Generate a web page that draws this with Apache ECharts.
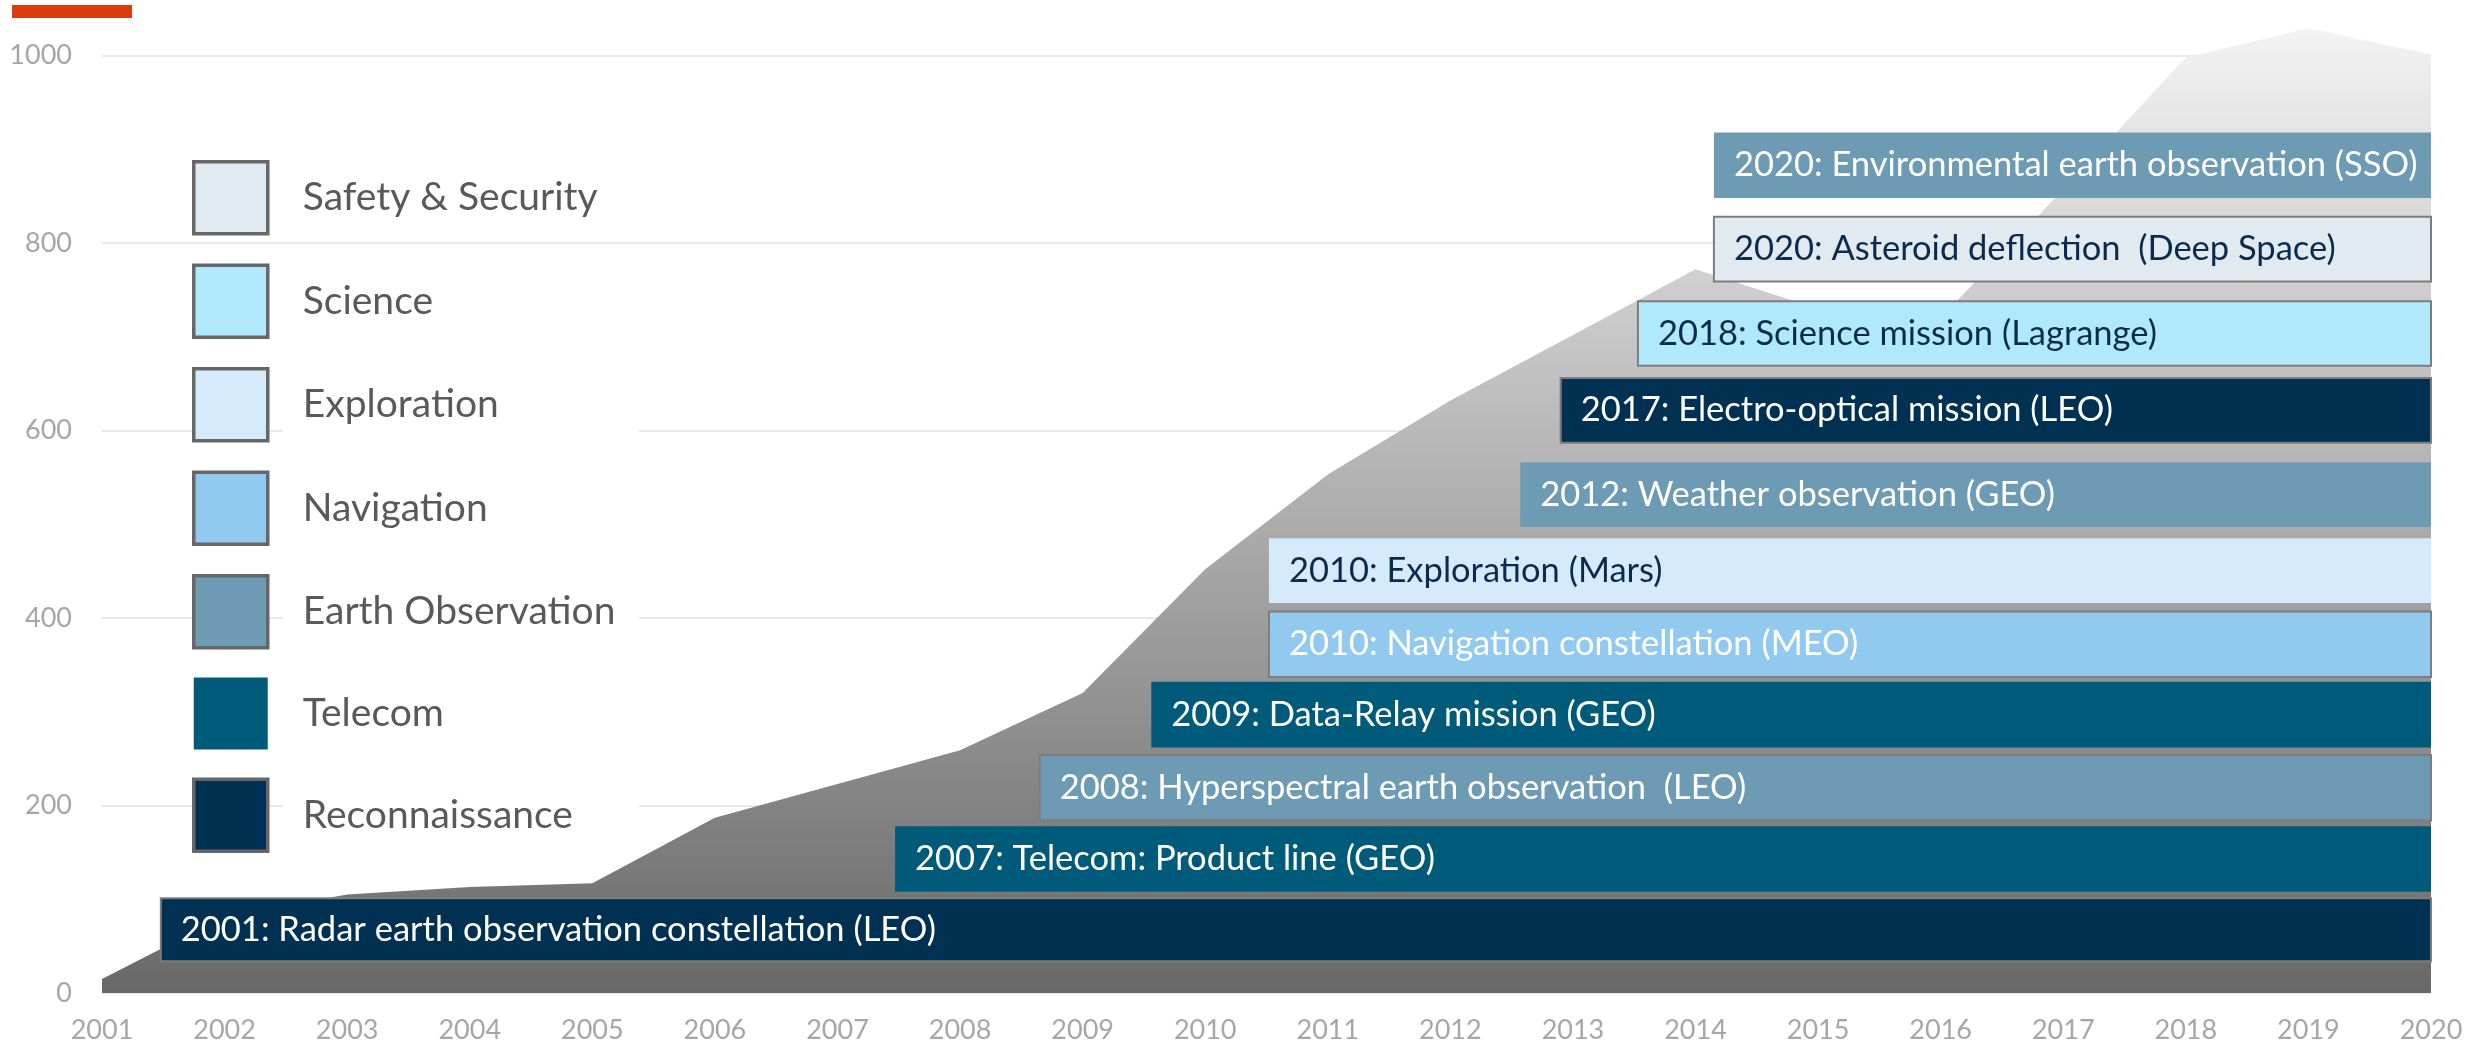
<!DOCTYPE html>
<html>
<head>
<meta charset="utf-8">
<script src="https://cdn.jsdelivr.net/npm/echarts@6/dist/echarts.min.js"></script>
<style>
html,body{margin:0;padding:0;background:#ffffff;}
#chart{width:2481px;height:1048px;}
</style>
</head>
<body>
<div id="chart"></div>
<script>
// ---------- DATA ----------
const years = [2001,2002,2003,2004,2005,2006,2007,2008,2009,2010,2011,2012,2013,2014,2015,2016,2017,2018,2019,2020];
const totalValues = [15,82,105,113,117,187,223,259,320,452,553,632,702,772,730,720,857,998,1029,1001];
const yTicks = [0,200,400,600,800,1000];

const categories = ['Safety & Security','Science','Exploration','Navigation','Earth Observation','Telecom','Reconnaissance'];

const missionLabels = [
  '2001: Radar earth observation constellation (LEO)',
  '2007: Telecom: Product line (GEO)',
  '2008: Hyperspectral earth observation  (LEO)',
  '2009: Data-Relay mission (GEO)',
  '2010: Navigation constellation (MEO)',
  '2010: Exploration (Mars)',
  '2012: Weather observation (GEO)',
  '2017: Electro-optical mission (LEO)',
  '2018: Science mission (Lagrange)',
  '2020: Asteroid deflection  (Deep Space)',
  '2020: Environmental earth observation (SSO)'
];
const missionCategory = ['Reconnaissance','Telecom','Earth Observation','Telecom','Navigation','Exploration','Earth Observation','Reconnaissance','Science','Safety & Security','Earth Observation'];
const missionStart = [2001.48,2007.47,2008.65,2009.56,2010.52,2010.52,2012.57,2012.90,2013.53,2014.15,2014.15];
const missionEnd   = [2020,2020,2020,2020,2020,2020,2020,2020,2020,2020,2020];
const missionLow   = [34,108,184,262,337,416,497,587,669,759,848];
const missionHigh  = [101,178,254,332,407,485,566,656,738,828,918];

// ---------- STYLE ----------
const FONT = 'Lato';
const CAT_COLORS = {
  'Safety & Security':'#e1eaf1',
  'Science':'#b0e9fc',
  'Exploration':'#d5ebfb',
  'Navigation':'#92c9ef',
  'Earth Observation':'#6d9bb4',
  'Telecom':'#005b7a',
  'Reconnaissance':'#003152'
};
const CAT_TEXT = {
  'Safety & Security':'#0b2b4c',
  'Science':'#0b2b4c',
  'Exploration':'#0b2b4c',
  'Navigation':'#ffffff',
  'Earth Observation':'#ffffff',
  'Telecom':'#ffffff',
  'Reconnaissance':'#ffffff'
};
const BORDERED = [0,2,4,7,8,9];
const LABEL_PAD = 20;

const chart = echarts.init(document.getElementById('chart'), null, {renderer:'canvas'});

const missionSeries = categories.map(cat => {
  const idx = missionLabels.map((_, i) => i).filter(i => missionCategory[i] === cat);
  return {
    type: 'custom',
    name: cat,
    z: 5,
    itemStyle: {color: CAT_COLORS[cat]},
    encode: {x: [0,1], y: [2,3]},
    data: idx.map(i => [missionStart[i], missionEnd[i], missionLow[i], missionHigh[i]]),
    renderItem: (params, api) => {
      const i = idx[params.dataIndex];
      const tl = api.coord([api.value(0), api.value(3)]);
      const br = api.coord([api.value(1), api.value(2)]);
      const bordered = BORDERED.indexOf(i) >= 0;
      return {
        type: 'group',
        children: [
          {
            type: 'rect',
            shape: {x: tl[0], y: tl[1], width: br[0]-tl[0], height: br[1]-tl[1]},
            style: {fill: CAT_COLORS[cat], stroke: bordered ? '#7d7d7d' : null, lineWidth: bordered ? 2 : 0}
          },
          {
            type: 'text',
            x: tl[0] + LABEL_PAD,
            y: (tl[1] + br[1]) / 2,
            style: {
              text: missionLabels[i],
              fill: CAT_TEXT[cat],
              fontFamily: FONT,
              fontSize: 34.5,
              align: 'left',
              verticalAlign: 'middle'
            }
          }
        ]
      };
    }
  };
});

const option = {
  backgroundColor: '#ffffff',
  animation: false,
  grid: {left: 102, right: 50, top: 55.5, bottom: 55, containLabel: false},
  xAxis: {
    type: 'value',
    min: years[0], max: years[years.length-1], interval: 1,
    axisLine: {show: false},
    axisTick: {show: false},
    splitLine: {show: false},
    axisLabel: {
      formatter: v => String(v),
      color: '#a6a6a6', fontFamily: FONT, fontSize: 27, margin: 24
    }
  },
  yAxis: {
    type: 'value',
    min: yTicks[0], max: yTicks[yTicks.length-1], interval: yTicks[1]-yTicks[0],
    axisLine: {show: false},
    axisTick: {show: false},
    splitLine: {show: true, lineStyle: {color: '#e8e8e8', width: 2}},
    axisLabel: {formatter: v => String(v), color: '#a6a6a6', fontFamily: FONT, fontSize: 27, margin: 30}
  },
  legend: {
    orient: 'vertical',
    left: 192, top: 160, padding: 0,
    itemWidth: 74, itemHeight: 72, itemGap: 28,
    icon: 'rect',
    selectedMode: false,
    itemStyle: {borderColor: '#676767', borderWidth: 3.5},
    textStyle: {fontFamily: FONT, fontSize: 39, color: '#595959', padding: [0,0,0,30]},
    data: categories.map(c => c === 'Telecom' ? {name: c, itemStyle: {borderWidth: 0}} : {name: c})
  },
  graphic: [
    {type: 'rect', left: 12, top: 5, z: 10, shape: {width: 120, height: 13}, style: {fill: '#dc3b0c'}},
    {type: 'rect', left: 283, top: 300, z: 1, shape: {width: 356, height: 560}, style: {fill: '#ffffff'}}
  ],
  series: [
    {
      type: 'line',
      name: 'total',
      z: 2,
      clip: false,
      data: years.map((y, i) => [y, totalValues[i]]),
      showSymbol: false,
      symbol: 'none',
      lineStyle: {width: 0},
      areaStyle: {
        opacity: 1,
        color: new echarts.graphic.LinearGradient(0, 0, 0, 1, [
          {offset: 0, color: '#f3f3f3'},
          {offset: 1, color: '#686868'}
        ])
      }
    }
  ].concat(missionSeries)
};

chart.setOption(option);
</script>
</body>
</html>
